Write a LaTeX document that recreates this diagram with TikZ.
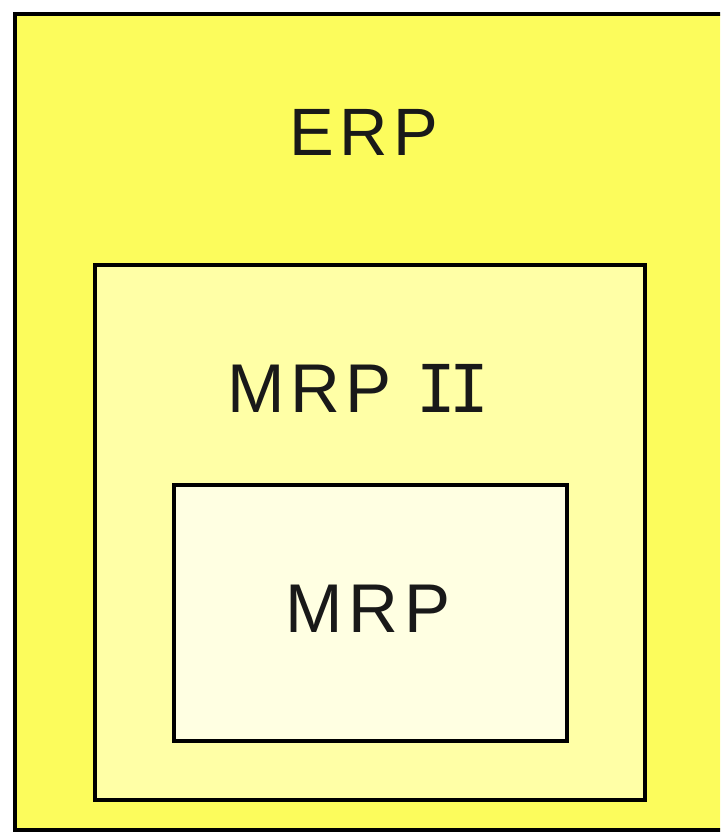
\documentclass[tikz,border=0pt]{standalone}
\usepackage{fontspec}
\setmainfont{Liberation Sans}[LetterSpace=8]
\newfontfamily\numeralfont{DejaVu Sans Mono}
\definecolor{erpfill}{HTML}{FCFC5C}
\definecolor{mrptwofill}{HTML}{FFFFA6}
\definecolor{mrpfill}{HTML}{FFFFE2}
\tikzset{
  layer/.style={draw=black, line width=4pt},
  layerlabel/.style={font=\fontsize{69}{72}\selectfont, text=black!90, inner sep=0pt, anchor=base}
}
\begin{document}
\begin{tikzpicture}[x=1pt,y=-1pt]
  \useasboundingbox (0,0) rectangle (720,832);
  \fill[white] (0,0) rectangle (720,832);
  \begin{scope}
    \clip (0,0) rectangle (720,832);
    % nested layers
    \draw[layer, fill=erpfill] (15,14) rectangle (740,830);
    \draw[layer, fill=mrptwofill] (95,265) rectangle (645,800);
    \draw[layer, fill=mrpfill] (174,485) rectangle (567,741);
  \end{scope}
  \node[layerlabel, font=\fontsize{67}{70}\selectfont] (erp) at (364,155) {ERP};
  \node[layerlabel] (mrpii) at (358,412) {MRP\hspace{25pt}{\numeralfont\fontsize{66}{70}\selectfont I\kern-7ptI}};
  \node[layerlabel] (mrp) at (368,632) {MRP};
\end{tikzpicture}
\end{document}
